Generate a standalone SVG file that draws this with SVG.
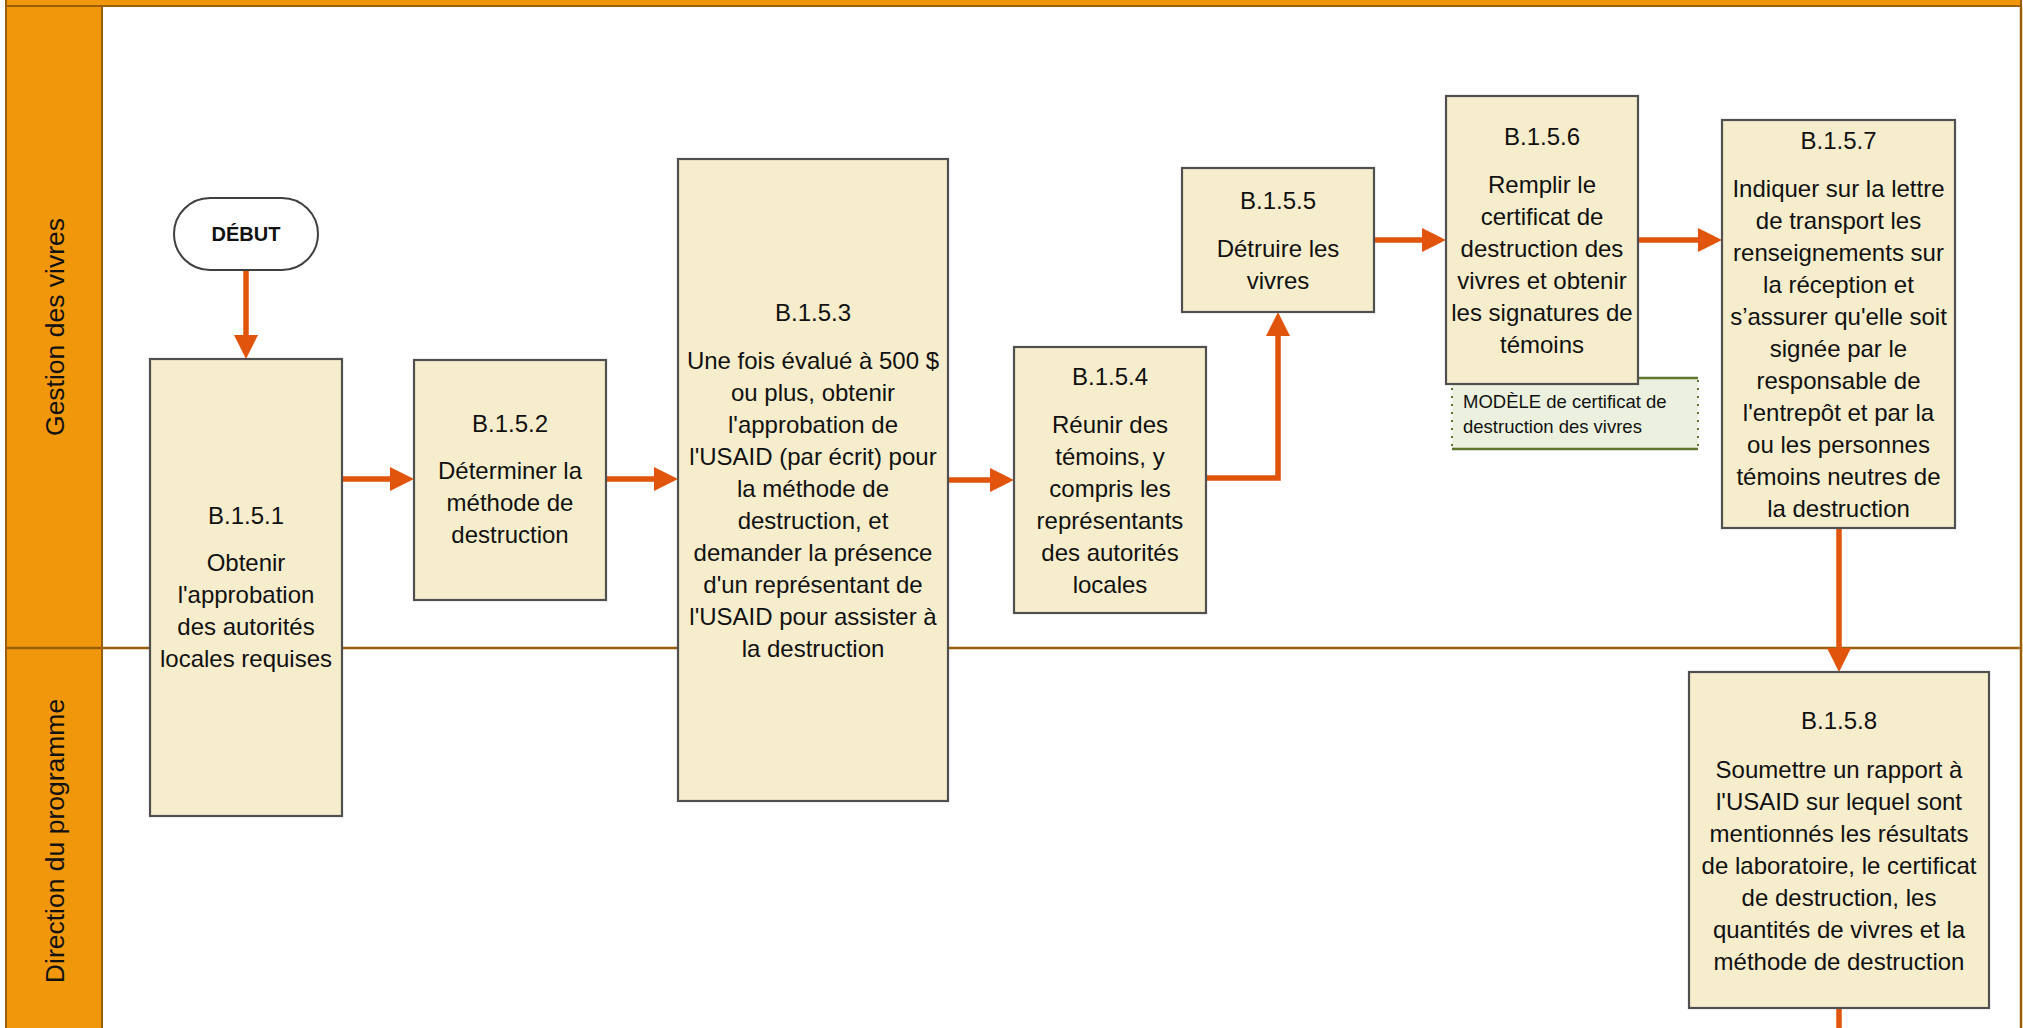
<svg xmlns="http://www.w3.org/2000/svg" width="2023" height="1028" viewBox="0 0 2023 1028">
  <style>
    .lanefill { fill: #F0970C; stroke: #9B5F0B; stroke-width: 2; }
    .laneline { stroke: #9B5F0B; stroke-width: 2.5; fill: none; }
    .lanelabel { font-family: "Liberation Sans", Arial, sans-serif; font-size: 26.5px; fill: #111; text-anchor: middle; }
    .box { fill: #F6EDCC; stroke: #505050; stroke-width: 2.2; }
    .txt { font-family: "Liberation Sans", Arial, sans-serif; font-size: 24px; fill: #111; text-anchor: middle; }
    .start { fill: #FFFFFF; stroke: #404040; stroke-width: 2; }
    .starttxt { font-family: "Liberation Sans", Arial, sans-serif; font-size: 20px; font-weight: bold; fill: #111; text-anchor: middle; }
    .notefill { fill: #EBF1DE; stroke: none; }
    .noteedge { stroke: #5F7530; stroke-width: 2.5; fill: none; }
    .notedot { stroke: #5F7530; stroke-width: 2; stroke-dasharray: 2 6; fill: none; }
    .notetxt { font-family: "Liberation Sans", Arial, sans-serif; font-size: 18.5px; fill: #111; }
    .flow { stroke: #E0540B; stroke-width: 5.5; fill: none; stroke-linecap: round; stroke-linejoin: miter; }
  </style>
  <defs>
    <marker id="head" markerUnits="userSpaceOnUse" markerWidth="25" markerHeight="25" refX="0" refY="12" orient="auto">
      <path d="M0,0 L24,12 L0,24 z" fill="#E0540B"/>
    </marker>
  </defs>

  <rect width="2023" height="1028" fill="#FFFFFF"/>

  <!-- swimlane frame -->
  <g id="pool">
    <rect class="lanefill" x="6" y="-30" width="2015" height="36"/>
    <rect class="lanefill" x="6" y="6" width="96" height="1040"/>
    <line class="laneline" x1="6" y1="648" x2="2021" y2="648"/>
    <line class="laneline" x1="2021" y1="6" x2="2021" y2="1030"/>
  </g>
  <g id="lane-gestion">
    <text class="lanelabel" transform="translate(64,327) rotate(-90)">Gestion des vivres</text>
  </g>
  <g id="lane-direction">
    <text class="lanelabel" transform="translate(64,841) rotate(-90)">Direction du programme</text>
  </g>

  <!-- connectors -->
  <g id="connectors">
    <path class="flow" d="M246,271 V335" marker-end="url(#head)"/>
    <path class="flow" d="M342,479 H390" marker-end="url(#head)"/>
    <path class="flow" d="M606,479 H654" marker-end="url(#head)"/>
    <path class="flow" d="M948,480 H990" marker-end="url(#head)"/>
    <path class="flow" d="M1206,478 H1278 V336" marker-end="url(#head)"/>
    <path class="flow" d="M1374,240 H1422" marker-end="url(#head)"/>
    <path class="flow" d="M1638,240 H1698" marker-end="url(#head)"/>
    <path class="flow" d="M1839,528 V648" marker-end="url(#head)"/>
    <path class="flow" d="M1839,1008 V1034"/>
  </g>

  <g id="debut">
    <rect class="start" x="174" y="198" width="144" height="72" rx="36" ry="36"/>
    <text class="starttxt" x="246" y="241">DÉBUT</text>
  </g>

  <g id="b151">
    <rect class="box" x="150" y="359" width="192" height="457"/>
    <text class="txt" x="246" y="524">B.1.5.1</text>
    <text class="txt" x="246" y="571">Obtenir</text>
    <text class="txt" x="246" y="603">l'approbation</text>
    <text class="txt" x="246" y="635">des autorités</text>
    <text class="txt" x="246" y="667">locales requises</text>
  </g>

  <g id="b152">
    <rect class="box" x="414" y="360" width="192" height="240"/>
    <text class="txt" x="510" y="432">B.1.5.2</text>
    <text class="txt" x="510" y="479">Déterminer la</text>
    <text class="txt" x="510" y="511">méthode de</text>
    <text class="txt" x="510" y="543">destruction</text>
  </g>

  <g id="b153">
    <rect class="box" x="678" y="159" width="270" height="642"/>
    <text class="txt" x="813" y="321">B.1.5.3</text>
    <text class="txt" x="813" y="369">Une fois évalué à 500 $</text>
    <text class="txt" x="813" y="401">ou plus, obtenir</text>
    <text class="txt" x="813" y="433">l'approbation de</text>
    <text class="txt" x="813" y="465">l'USAID (par écrit) pour</text>
    <text class="txt" x="813" y="497">la méthode de</text>
    <text class="txt" x="813" y="529">destruction, et</text>
    <text class="txt" x="813" y="561">demander la présence</text>
    <text class="txt" x="813" y="593">d'un représentant de</text>
    <text class="txt" x="813" y="625">l'USAID pour assister à</text>
    <text class="txt" x="813" y="657">la destruction</text>
  </g>

  <g id="b154">
    <rect class="box" x="1014" y="347" width="192" height="266"/>
    <text class="txt" x="1110" y="385">B.1.5.4</text>
    <text class="txt" x="1110" y="433">Réunir des</text>
    <text class="txt" x="1110" y="465">témoins, y</text>
    <text class="txt" x="1110" y="497">compris les</text>
    <text class="txt" x="1110" y="529">représentants</text>
    <text class="txt" x="1110" y="561">des autorités</text>
    <text class="txt" x="1110" y="593">locales</text>
  </g>

  <g id="b155">
    <rect class="box" x="1182" y="168" width="192" height="144"/>
    <text class="txt" x="1278" y="209">B.1.5.5</text>
    <text class="txt" x="1278" y="257">Détruire les</text>
    <text class="txt" x="1278" y="289">vivres</text>
  </g>

  <!-- attached document note, partly covered by B.1.5.6 -->
  <g id="note-modele">
    <rect class="notefill" x="1452" y="378" width="246" height="71"/>
    <line class="noteedge" x1="1452" y1="378" x2="1698" y2="378"/>
    <line class="noteedge" x1="1452" y1="449" x2="1698" y2="449"/>
    <line class="notedot" x1="1452" y1="380" x2="1452" y2="448"/>
    <line class="notedot" x1="1698" y1="380" x2="1698" y2="448"/>
    <text class="notetxt" x="1463" y="408">MODÈLE de certificat de</text>
    <text class="notetxt" x="1463" y="433">destruction des vivres</text>
  </g>

  <g id="b156">
    <rect class="box" x="1446" y="96" width="192" height="288"/>
    <text class="txt" x="1542" y="145">B.1.5.6</text>
    <text class="txt" x="1542" y="193">Remplir le</text>
    <text class="txt" x="1542" y="225">certificat de</text>
    <text class="txt" x="1542" y="257">destruction des</text>
    <text class="txt" x="1542" y="289">vivres et obtenir</text>
    <text class="txt" x="1542" y="321">les signatures de</text>
    <text class="txt" x="1542" y="353">témoins</text>
  </g>

  <g id="b157">
    <rect class="box" x="1722" y="120" width="233" height="408"/>
    <text class="txt" x="1838.5" y="149">B.1.5.7</text>
    <text class="txt" x="1838.5" y="197">Indiquer sur la lettre</text>
    <text class="txt" x="1838.5" y="229">de transport les</text>
    <text class="txt" x="1838.5" y="261">renseignements sur</text>
    <text class="txt" x="1838.5" y="293">la réception et</text>
    <text class="txt" x="1838.5" y="325">s’assurer qu'elle soit</text>
    <text class="txt" x="1838.5" y="357">signée par le</text>
    <text class="txt" x="1838.5" y="389">responsable de</text>
    <text class="txt" x="1838.5" y="421">l'entrepôt et par la</text>
    <text class="txt" x="1838.5" y="453">ou les personnes</text>
    <text class="txt" x="1838.5" y="485">témoins neutres de</text>
    <text class="txt" x="1838.5" y="517">la destruction</text>
  </g>

  <g id="b158">
    <rect class="box" x="1689" y="672" width="300" height="336"/>
    <text class="txt" x="1839" y="729">B.1.5.8</text>
    <text class="txt" x="1839" y="778">Soumettre un rapport à</text>
    <text class="txt" x="1839" y="810">l'USAID sur lequel sont</text>
    <text class="txt" x="1839" y="842">mentionnés les résultats</text>
    <text class="txt" x="1839" y="874">de laboratoire, le certificat</text>
    <text class="txt" x="1839" y="906">de destruction, les</text>
    <text class="txt" x="1839" y="938">quantités de vivres et la</text>
    <text class="txt" x="1839" y="970">méthode de destruction</text>
  </g>
</svg>
